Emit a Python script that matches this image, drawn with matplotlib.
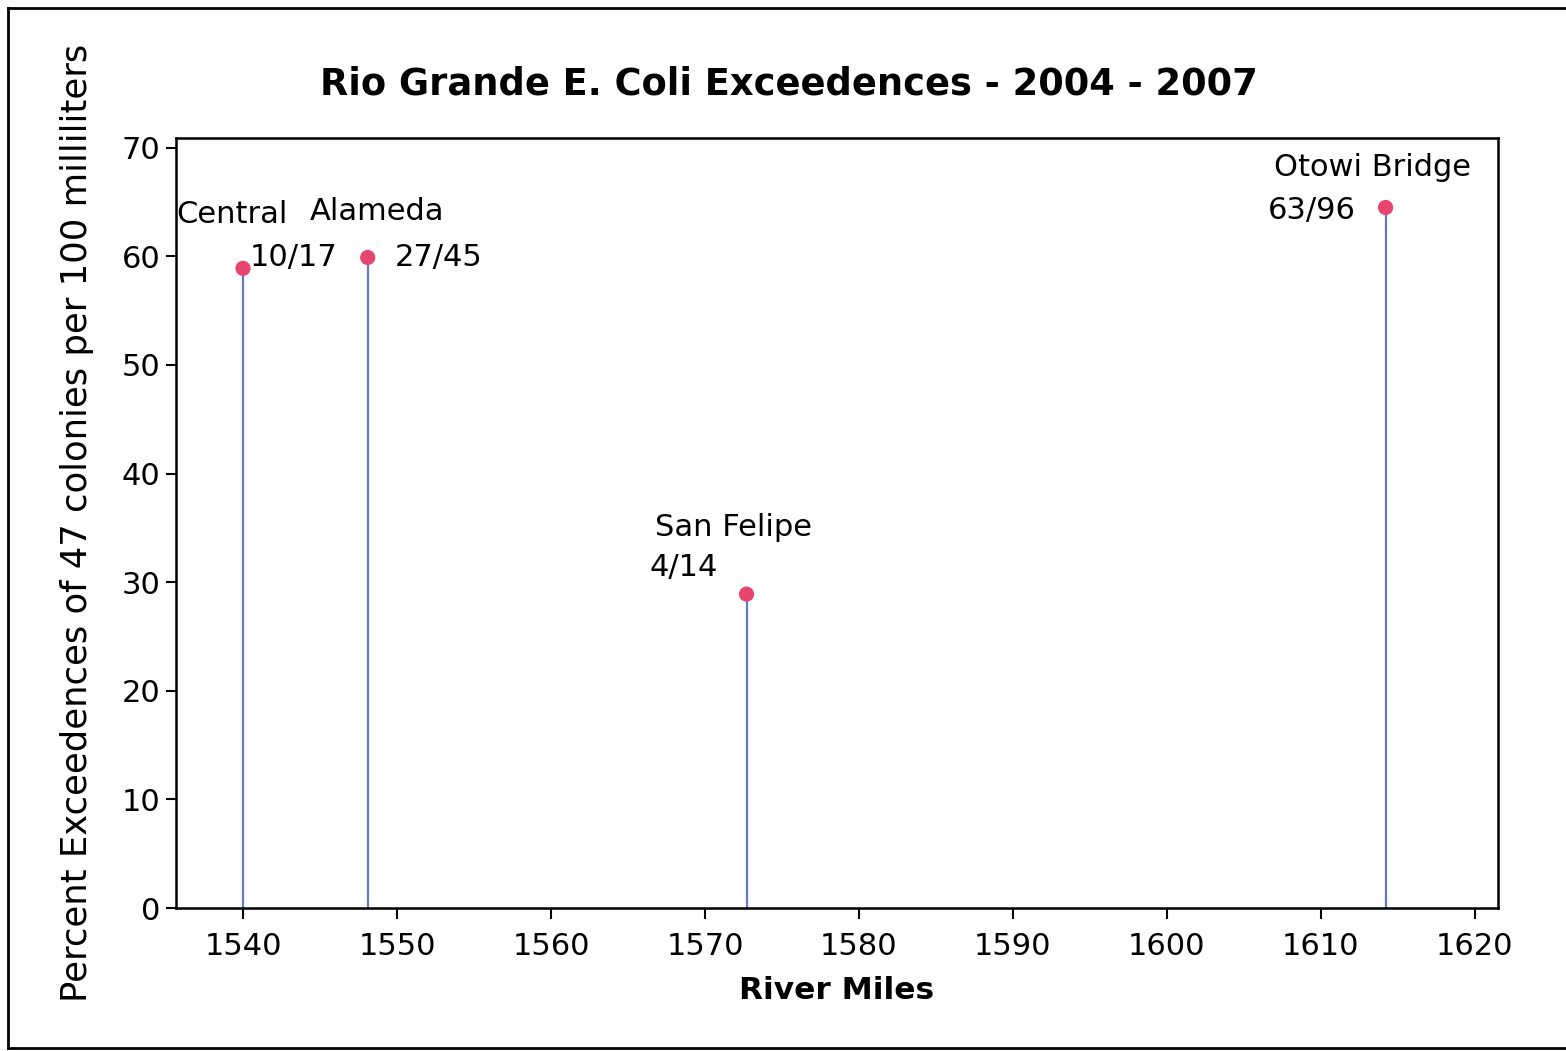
import matplotlib
matplotlib.use("Agg")
import matplotlib.pyplot as plt
from matplotlib.lines import Line2D

# ── data ──
sites = ["Central", "Alameda", "San Felipe", "Otowi Bridge"]
river_miles = [1540.0, 1548.1, 1572.7, 1614.2]
pct_exceed = [58.9, 59.9, 28.9, 64.5]
counts = ["10/17", "27/45", "4/14", "63/96"]

# label offsets (pixels) relative to each point: (name, count)
name_off = [(-67, 54), (-58, 46), (-92, 67), (-112, 40)]
count_off = [(7, 11), (27, 0), (-97, 27), (-118, -3)]

STEM = "#6478c8"
DOT = "#e8456e"

plt.rcParams["font.family"] = ["DejaVu Sans"]

fig = plt.figure(figsize=(15.66, 10.51), dpi=100, facecolor="white")
ax = fig.add_axes([176 / 1566, 1 - 908 / 1051, (1498 - 176) / 1566, (908 - 138) / 1051])

ax.vlines(river_miles, 0, pct_exceed, color=STEM, linewidth=1.6, zorder=2)
ax.scatter(river_miles, pct_exceed, s=120, color=DOT, zorder=3, edgecolors="none")

for x, y, nm, ct, no, co in zip(river_miles, pct_exceed, sites, counts, name_off, count_off):
    ax.annotate(nm, (x, y), xytext=no, textcoords="offset pixels",
                ha="left", va="center", fontsize=22)
    ax.annotate(ct, (x, y), xytext=co, textcoords="offset pixels",
                ha="left", va="center", fontsize=22)

ax.set_xlim(1535.65, 1621.5)
ax.set_ylim(0, 70.9)
ax.set_xticks(range(1540, 1621, 10))
ax.set_yticks(range(0, 71, 10))
ax.tick_params(axis="both", direction="out", labelsize=22, width=1.5, color="black")
ax.tick_params(axis="x", length=8, pad=9)
ax.tick_params(axis="y", length=7, pad=4)
for s in ax.spines.values():
    s.set_linewidth(1.8)

ax.set_xlabel("River Miles", fontsize=22.5, fontweight="bold", labelpad=11)
ax.set_ylabel("Percent Exceedences of 47 colonies per 100 milliliters",
              fontsize=25.5, labelpad=20)
ax.set_title("Rio Grande E. Coli Exceedences - 2004 - 2007",
             fontsize=26.5, fontweight="bold", pad=31, x=0.4633)

# outer frame of the original graph
fig.add_artist(Line2D([8 / 1566, 8 / 1566], [1 - 8 / 1051, 1 - 1048 / 1051],
                      color="black", linewidth=2))
fig.add_artist(Line2D([8 / 1566, 1], [1 - 8 / 1051, 1 - 8 / 1051],
                      color="black", linewidth=2))
fig.add_artist(Line2D([8 / 1566, 1], [1 - 1048 / 1051, 1 - 1048 / 1051],
                      color="black", linewidth=2))

fig.savefig("out.png", dpi=100, facecolor="white")
